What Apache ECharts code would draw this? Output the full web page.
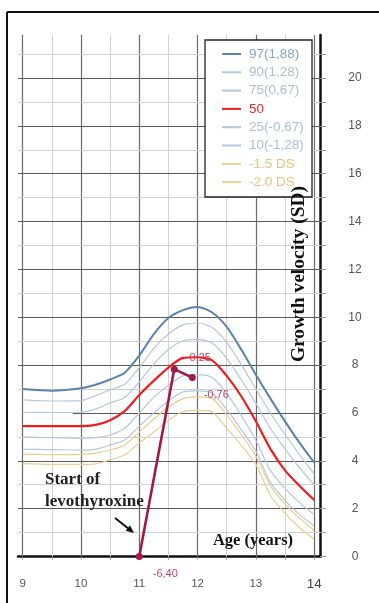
<!DOCTYPE html>
<html>
<head>
<meta charset="utf-8">
<script src="https://cdn.jsdelivr.net/npm/echarts@6/dist/echarts.min.js"></script>
<style>
html,body{margin:0;padding:0;background:#fff;}
#chart{width:379px;height:603px;}
</style>
</head>
<body>
<div id="chart"></div>
<script>
// ---- data ----
var ages = [9, 9.5, 10, 10.25, 10.5, 10.75, 11, 11.25, 11.5, 11.75, 12, 12.25, 12.5, 12.75, 13, 13.25, 13.5, 13.75, 14];
var p97 = [7.0, 6.93, 7.03, 7.18, 7.4, 7.68, 8.4, 9.3, 9.97, 10.3, 10.43, 10.2, 9.6, 8.65, 7.6, 6.6, 5.65, 4.75, 3.93];
var p90 = [6.55, 6.5, 6.52, 6.72, 6.97, 7.2, 7.9, 8.7, 9.3, 9.68, 9.76, 9.57, 8.95, 8.02, 7.0, 6.0, 5.1, 4.25, 3.45];
var p75 = [6.03, 6.02, 6.03, 6.16, 6.42, 6.65, 7.3, 8.05, 8.65, 9.02, 9.08, 8.92, 8.28, 7.39, 6.4, 5.35, 4.5, 3.7, 3.0];
var p50 = [5.45, 5.45, 5.45, 5.5, 5.7, 6.08, 6.75, 7.35, 7.9, 8.3, 8.33, 8.2, 7.55, 6.7, 5.65, 4.5, 3.6, 2.95, 2.36];
var p25 = [5.0, 4.97, 4.95, 4.97, 5.08, 5.36, 6.0, 6.65, 7.16, 7.55, 7.6, 7.48, 6.82, 5.9, 4.85, 3.6, 2.85, 2.25, 1.75];
var p10 = [4.48, 4.47, 4.45, 4.48, 4.66, 4.87, 5.45, 6.0, 6.5, 6.88, 6.92, 6.83, 6.15, 5.3, 4.4, 3.1, 2.35, 1.75, 1.28];
var m15 = [4.28, 4.26, 4.26, 4.32, 4.45, 4.66, 5.2, 5.75, 6.25, 6.6, 6.67, 6.6, 5.92, 5.1, 4.2, 2.95, 2.2, 1.6, 1.1];
var m20 = [3.88, 3.85, 3.85, 3.87, 4.04, 4.25, 4.75, 5.2, 5.7, 6.05, 6.12, 6.05, 5.37, 4.65, 3.85, 2.55, 1.8, 1.2, 0.72];

var seriesNames = ['97(1,88)', '90(1,28)', '75(0,67)', '50', '25(-0,67)', '10(-1,28)', '-1.5 DS', '-2.0 DS'];

var patientAges = [11.0, 11.6, 11.91];
var patientVel = [0, 7.83, 7.48];
var patientLabels = ['-6,40', '0,25', '-0,76'];

var xTickLabels = [9, 10, 11, 12, 13, 14];
var yTickLabels = [0, 2, 4, 6, 8, 10, 12, 14, 16, 18, 20];
var xGridMajor = [9, 10, 11, 12, 13, 14];
var xGridMinor = [9.5, 10.5, 11.5, 12.5, 13.5];
var yGridMajor = [2, 4, 8, 10, 12, 14, 16, 18, 20];
var yGridMinor = [1, 3, 5, 7, 9, 11, 13, 15, 17, 19, 21];
var yTicks = [0,1,2,3,4,5,6,7,8,9,10,11,12,13,14,15,16,17,18,19,20,21];

// ---- build ----
function pairs(xs, ys) { return xs.map(function (x, i) { return [x, ys[i]]; }); }

var curveData = [p97, p90, p75, p50, p25, p10, m15, m20];
var lineColors = ['#5a82b2', '#b3c8dc', '#b3c8dc', '#f21c1c', '#b3c8dc', '#b3c8dc', '#ecce90', '#ecce90'];
var lineWidths = [2, 1.2, 1.2, 2.2, 1.2, 1.2, 1.2, 1.2];
var textColors = ['#86a3c6', '#a9bfd6', '#a9bfd6', '#ef2626', '#a9bfd6', '#a9bfd6', '#e6c47e', '#e6c47e'];

var gridLines = [];
xGridMajor.forEach(function (v) { gridLines.push({ xAxis: v, lineStyle: { color: '#6a6a6a', width: 1.2, type: 'solid' } }); });
xGridMinor.forEach(function (v) { gridLines.push({ xAxis: v, lineStyle: { color: '#d2d2d2', width: 1, type: 'solid' } }); });
yGridMajor.forEach(function (v) { gridLines.push({ yAxis: v, lineStyle: { color: '#5a5a5a', width: 1.2, type: 'solid' } }); });
yGridMinor.forEach(function (v) { gridLines.push({ yAxis: v, lineStyle: { color: '#d2d2d2', width: 1, type: 'solid' } }); });
gridLines.push([{ coord: [9.86, 6], lineStyle: { color: '#5a5a5a', width: 1.2, type: 'solid' } }, { coord: [14.1, 6] }]);

var series = [{
  type: 'line', name: 'grid', data: [], silent: true, z: 1,
  markLine: { z: 1, silent: true, symbol: ['none', 'none'], label: { show: false }, animation: false, data: gridLines }
}];
curveData.forEach(function (d, i) {
  series.push({
    type: 'line', name: seriesNames[i], data: pairs(ages, d), symbol: 'none', smooth: 0.25,
    z: 2, lineStyle: { color: lineColors[i], width: lineWidths[i] }, itemStyle: { color: lineColors[i] },
    animation: false
  });
});
var labOffsets = [[26, 17], [26, -11], [24, 17]];
series.push({
  type: 'line', name: 'patient', z: 3, animation: false,
  data: patientAges.map(function (a, i) {
    return { value: [a, patientVel[i]], label: { show: true, position: 'inside', offset: labOffsets[i], formatter: patientLabels[i] } };
  }),
  symbol: 'circle', symbolSize: 7,
  lineStyle: { color: '#a3184b', width: 2.6 }, itemStyle: { color: '#a3184b' },
  label: { color: '#c0456e', fontSize: 11, fontFamily: 'Liberation Sans' }
});

var chart = echarts.init(document.getElementById('chart'), null, { renderer: 'canvas' });
chart.setOption({
  animation: false,
  backgroundColor: '#fff',
  grid: { left: 18, right: 59, top: 35, bottom: 46.5, containLabel: false },
  xAxis: {
    type: 'value', min: 8.92, max: 14.1,
    axisLine: { show: true, onZero: false, lineStyle: { color: '#111', width: 2.5 } },
    axisTick: { show: true, customValues: [9, 9.5, 10, 10.5, 11, 11.5, 12, 12.5, 13, 13.5, 14], length: 3, lineStyle: { color: '#888' } },
    axisLabel: {
      customValues: xTickLabels, margin: 21, color: '#555', fontSize: 11.5, fontFamily: 'Liberation Sans',
      formatter: function (v) { return v === 14 ? '{big|14}' : String(v); },
      rich: { big: { fontSize: 13.5, color: '#444', fontFamily: 'Liberation Sans' } }
    },
    splitLine: { show: false }
  },
  yAxis: {
    type: 'value', position: 'right', min: 0, max: 21.8,
    axisLine: { show: true, onZero: false, lineStyle: { color: '#111', width: 2.5 } },
    axisTick: { show: true, customValues: yTicks, length: 6, lineStyle: { color: '#999' } },
    axisLabel: { customValues: yTickLabels, margin: 35, align: 'center', color: '#555', fontSize: 12, fontFamily: 'Liberation Sans' },
    splitLine: { show: false }
  },
  legend: {
    data: seriesNames.map(function (n, i) { return { name: n, textStyle: { color: textColors[i] } }; }),
    orient: 'vertical', left: 221, top: 47, padding: 0, itemGap: 4.3, itemWidth: 19, itemHeight: 13,
    itemStyle: { opacity: 0 },
    textStyle: { fontSize: 13.5, fontFamily: 'Liberation Sans', padding: [0, 0, 0, 3] },
    z: 6
  },
  graphic: [
    { type: 'rect', z: 5, shape: { x: 205, y: 40, width: 107, height: 157 }, style: { fill: '#fff', stroke: '#222', lineWidth: 1.3 } },
    { type: 'line', z: 5, shape: { x1: 7, y1: 12, x2: 379, y2: 12 }, style: { stroke: '#111', lineWidth: 2 } },
    { type: 'line', z: 5, shape: { x1: 7, y1: 12, x2: 7, y2: 603 }, style: { stroke: '#111', lineWidth: 2 } },
    { type: 'text', z: 6, x: 299, y: 274, rotation: Math.PI / 2,
      style: { text: 'Growth velocity (SD)', font: 'bold 19.5px "Liberation Serif"', fill: '#111', textAlign: 'center', textVerticalAlign: 'middle' } },
    { type: 'text', z: 6, x: 253, y: 541,
      style: { text: 'Age (years)', font: 'bold 16.5px "Liberation Serif"', fill: '#111', textAlign: 'center', textVerticalAlign: 'middle' } },
    { type: 'text', z: 6, x: 45, y: 469,
      style: { text: 'Start of\nlevothyroxine', font: 'bold 17px "Liberation Serif"', fill: '#222', lineHeight: 22, textAlign: 'left', textVerticalAlign: 'top' } },
    { type: 'line', z: 6, shape: { x1: 115, y1: 518, x2: 129, y2: 529 }, style: { stroke: '#111', lineWidth: 2 } },
    { type: 'polygon', z: 6, shape: { points: [[125.6, 530.7], [130, 525.3], [134, 533]] }, style: { fill: '#111' } }
  ],
  series: series
});
</script>
</body>
</html>
